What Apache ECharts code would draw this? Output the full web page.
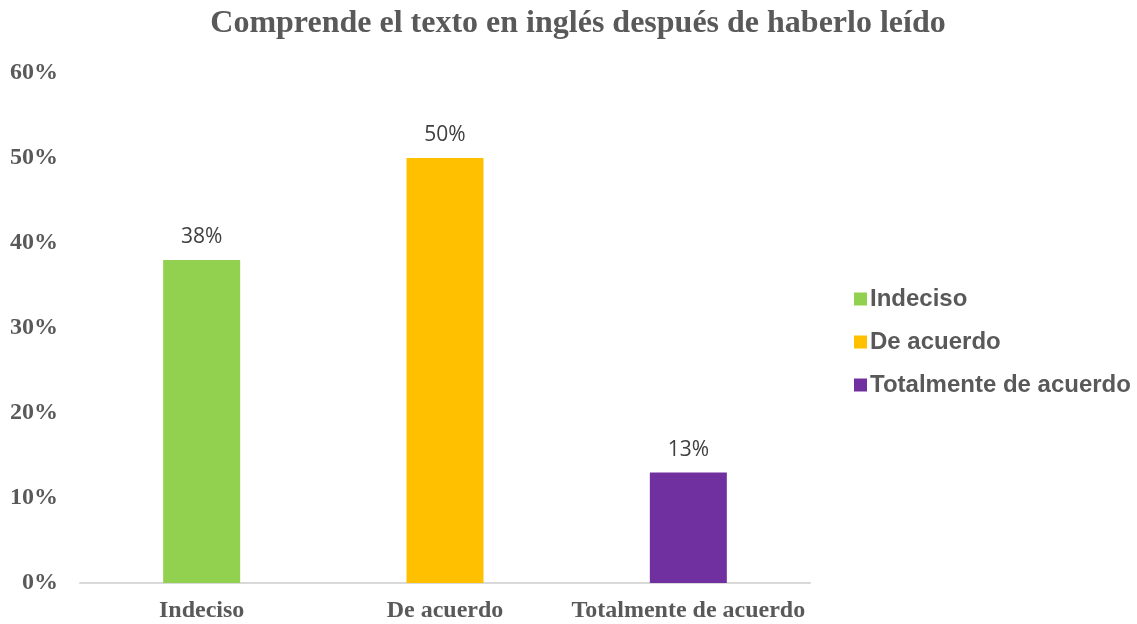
<!DOCTYPE html>
<html>
<head>
<meta charset="utf-8">
<script src="https://cdn.jsdelivr.net/npm/echarts@6/dist/echarts.min.js"></script>
<style>
  html, body { margin: 0; padding: 0; background: #fff; }
  #chart { width: 1137px; height: 624px; }
</style>
</head>
<body>
<div id="chart"></div>
<script>
  // datos
  var categorias = ['Indeciso', 'De acuerdo', 'Totalmente de acuerdo'];
  var valores = [38, 50, 13];
  var colores = ['#92D050', '#FFC000', '#7030A0'];
  var ticksY = [0, 10, 20, 30, 40, 50, 60];

  var myChart = echarts.init(document.getElementById('chart'));

  // una serie por categoría para que salga en la leyenda
  var series = categorias.map(function (nombre, i) {
    var datos = categorias.map(function (c, j) { return j === i ? valores[i] : '-'; });
    return {
      name: nombre,
      type: 'bar',
      data: datos,
      barWidth: 77,
      barGap: '-100%',
      itemStyle: { color: colores[i] },
      label: {
        show: true,
        position: 'top',
        distance: 12,
        formatter: '{c}%',
        fontFamily: 'Open Sans',
        fontSize: 21,
        color: '#404040'
      }
    };
  });

  myChart.setOption({
    animation: false,
    title: {
      text: 'Comprende el texto en inglés después de haberlo leído',
      left: 573,
      textAlign: 'center',
      top: 3,
      textStyle: {
        fontFamily: 'Liberation Serif',
        fontWeight: 'bold',
        fontSize: 32,
        color: '#595959'
      }
    },
    legend: {
      orient: 'vertical',
      left: 849,
      top: 282,
      itemWidth: 13,
      itemHeight: 13,
      itemGap: 19,
      icon: 'rect',
      textStyle: {
        fontFamily: 'Liberation Sans',
        fontWeight: 'bold',
        fontSize: 24,
        color: '#595959',
        padding: [0, 0, 0, -2]
      },
      data: categorias
    },
    grid: {
      left: 80,
      right: 327,
      top: 73,
      bottom: 41
    },
    xAxis: {
      type: 'category',
      data: categorias,
      axisLine: { lineStyle: { color: '#D9D9D9', width: 2 } },
      axisTick: { show: false },
      axisLabel: {
        interval: 0,
        margin: 16,
        fontFamily: 'Liberation Serif',
        fontWeight: 'bold',
        fontSize: 24,
        color: '#595959'
      }
    },
    yAxis: {
      type: 'value',
      min: ticksY[0],
      max: ticksY[ticksY.length - 1],
      interval: 10,
      splitLine: { show: false },
      axisLine: { show: false },
      axisTick: { show: false },
      axisLabel: {
        margin: 22,
        formatter: '{value}%',
        fontFamily: 'Liberation Serif',
        fontWeight: 'bold',
        fontSize: 24,
        color: '#595959'
      }
    },
    series: series
  });
</script>
</body>
</html>
